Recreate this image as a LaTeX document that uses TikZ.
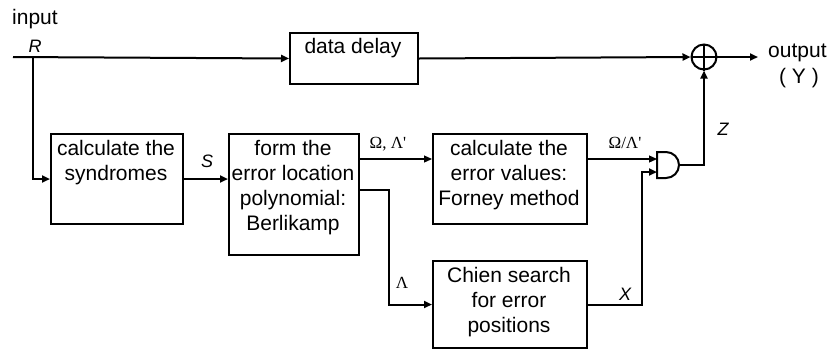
\documentclass[tikz,border=0pt]{standalone}
\usepackage{fontspec}
\setmainfont{Liberation Sans}
\newfontfamily\greekfont{Liberation Serif}
\usetikzlibrary{arrows.meta,calc}
\begin{document}
\begin{tikzpicture}[x=1pt,y=-1pt,
  thickline/.style={line width=2pt},
  thinline/.style={line width=1.2pt},
  arr/.style={-{Triangle[length=8pt,width=7pt]}},
  blk/.style={draw,line width=2pt,inner sep=0pt,anchor=north west},
  btxt/.style={anchor=north,inner sep=0pt,align=center,font=\fontsize{21}{25}\selectfont},
  lbl/.style={inner sep=0pt,font=\fontsize{21}{25}\selectfont},
  vlbl/.style={anchor=base,inner sep=0pt,font=\itshape\fontsize{18}{20}\selectfont},
  glbl/.style={anchor=base,inner sep=0pt,font=\greekfont\fontsize{17}{20}\selectfont}
]
\useasboundingbox (0,0) rectangle (829,349);
% blocks
\node[blk,minimum width=128pt,minimum height=51pt] (delay) at (289,32) {};
\node[blk,minimum width=132pt,minimum height=90pt] (synd) at (50,133) {};
\node[blk,minimum width=130pt,minimum height=121pt] (form) at (228,133) {};
\node[blk,minimum width=154pt,minimum height=90pt] (fval) at (432,133) {};
\node[blk,minimum width=154pt,minimum height=87pt] (chien) at (432,260) {};
% block texts
\node[btxt] (tdelay) at (353,35.5) {\strut data delay};
\node[btxt] (tsynd) at (116,137.5) {\strut calculate the\\syndromes};
\node[btxt] (tform) at (293,137.5) {\strut form the\\error location\\polynomial:\\Berlikamp};
\node[btxt] (tfval) at (509,137.5) {\strut calculate the\\error values:\\Forney method};
\node[btxt] (tchien) at (509,264.5) {\strut Chien search\\for error\\positions};
% adder
\node[circle,draw,line width=2pt,minimum size=25pt,inner sep=0pt] (adder) at (704,57) {};
\draw[line width=2pt] (adder.north) -- (adder.south) (adder.west) -- (adder.east);
% and gate
\coordinate (gin1) at (657,159);
\coordinate (gin2) at (657,172);
\coordinate (gout) at (679,165);
\draw[line width=2pt] (657,152) -- (666,152) arc[start angle=-90,end angle=90,radius=13] -- (657,178) -- cycle;
% coordinates
\coordinate (in) at (13,57);
\coordinate (br) at (33,57);
\coordinate (out) at (758,57);
% connectors
\draw[thickline,arr] (in) -- (delay.west);
\draw[thickline,arr] (delay.east) -- (adder.west);
\draw[thickline,arr] (adder.east) -- (out);
\draw[thickline,arr] (br) |- (synd.west);
\draw[thickline,arr] (synd.east) -- (synd.east -| form.west);
\draw[thinline,arr] ($(form.north east)+(0,26)$) -- ($(fval.north west)+(0,26)$);
\draw[thickline,arr] ($(form.north east)+(0,57)$) -- ++(29,0) |- (chien.west);
\draw[thinline,arr] ($(fval.north east)+(0,26)$) -- (gin1);
\draw[thickline,arr] (chien.east) -- ++(54,0) |- (gin2);
\draw[thickline,arr] (gout) -| (adder.south);
% labels
\node[lbl,anchor=base west] (linput) at (12,24) {input};
\node[vlbl] (lR) at (35,52) {R};
\node[vlbl] (lS) at (207,167) {S};
\node[vlbl] (lX) at (625,300) {X};
\node[vlbl] (lZ) at (723,135) {Z};
\node[glbl] (lol) at (388,148) {Ω, Λ'};
\node[glbl] (lodiv) at (625,148) {Ω/Λ'};
\node[glbl] (llam) at (402,288) {Λ};
\node[lbl,anchor=base west] (lout) at (768,57) {output};
\node[lbl,anchor=base] (ly) at (799,83) {( Y )};
\end{tikzpicture}
\end{document}
